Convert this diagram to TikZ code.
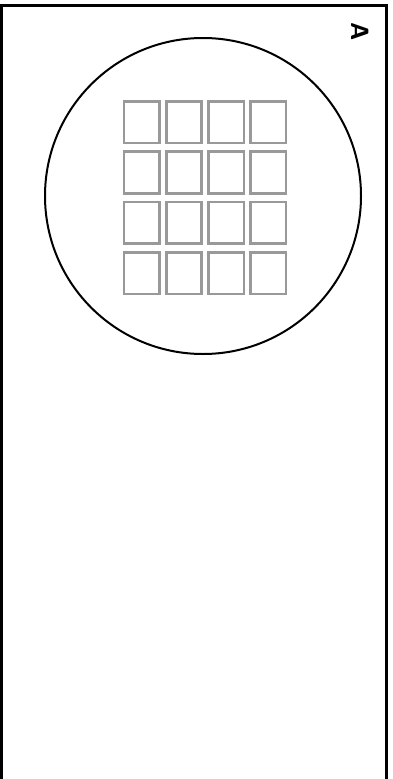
\documentclass[tikz,border=0pt]{standalone}
\usepackage{tikz}
\usetikzlibrary{positioning}
\definecolor{cellgray}{HTML}{999999}

\begin{document}
\begin{tikzpicture}[x=1pt, y=-1pt]
      \useasboundingbox (0,0) rectangle (393,779);
      \clip (0,0) rectangle (393,779);

      % outer frame, runs off the bottom
      \draw[line width=3pt] (1.5,5) rectangle (386,800);

      % dish
      \draw[line width=2pt] (203,196) circle (158);

      % 4x4 grid of wells
      \foreach \i in {0,1,2,3} {
        \foreach \j in {0,1,2,3} {
          \draw[cellgray, line width=2.6pt]
            ({124+42.2*\i},{101.3+50.3*\j}) rectangle ++(35.4,41.7);
        }
      }

      \node[font=\fontsize{25}{25}\selectfont\sffamily\bfseries, rotate=-90]
        (label) at (360.5,32) {A};
    \end{tikzpicture}
\end{document}
